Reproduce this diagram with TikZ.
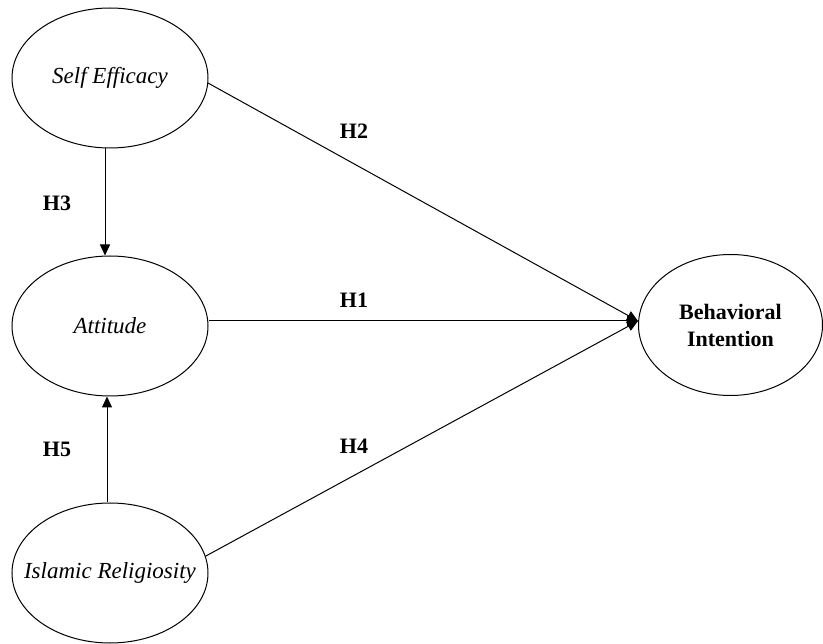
\documentclass[tikz,border=0pt]{standalone}
\usepackage{fontspec}
\setmainfont{Liberation Serif}
\usetikzlibrary{shapes.geometric,arrows.meta}
\begin{document}
\begin{tikzpicture}[x=1pt,y=-1pt,
  construct/.style={draw,ellipse,line width=1pt,minimum width=196pt,minimum height=140pt,inner xsep=-22pt,inner ysep=0pt,font=\fontsize{23}{28}\selectfont\itshape},
  hyp/.style={font=\fontsize{22}{26}\selectfont\bfseries},
  link/.style={line width=1pt,-{Triangle[length=11pt,width=10pt]}}]
\useasboundingbox (0,0) rectangle (823,644);
\node[construct] (se) at (110,78) {Self Efficacy};
\node[construct] (att) at (110,326) {Attitude};
\node[construct] (ir) at (110,573) {Islamic Religiosity};
\node[construct,minimum width=184pt,minimum height=141pt,font=\fontsize{22}{27}\selectfont\bfseries,align=center] (bi) at (730.5,325) {Behavioral\\Intention};
\coordinate (tip) at ([yshift=4pt]bi.west);
\draw[link] (se.-3) -- (tip);
\draw[link] ([yshift=5pt]att.east) -- (tip);
\draw[link] (ir.10) -- (tip);
\draw[link] ([xshift=-5pt]se.south) -- ([xshift=-5pt]att.north);
\draw[link] ([xshift=-3pt]ir.north) -- ([xshift=-3pt]att.south);
\node[hyp] (h2) at (354,131) {H2};
\node[hyp] (h3) at (57,203) {H3};
\node[hyp] (h1) at (354,300) {H1};
\node[hyp] (h4) at (354,446) {H4};
\node[hyp] (h5) at (57,449) {H5};
\end{tikzpicture}
\end{document}
